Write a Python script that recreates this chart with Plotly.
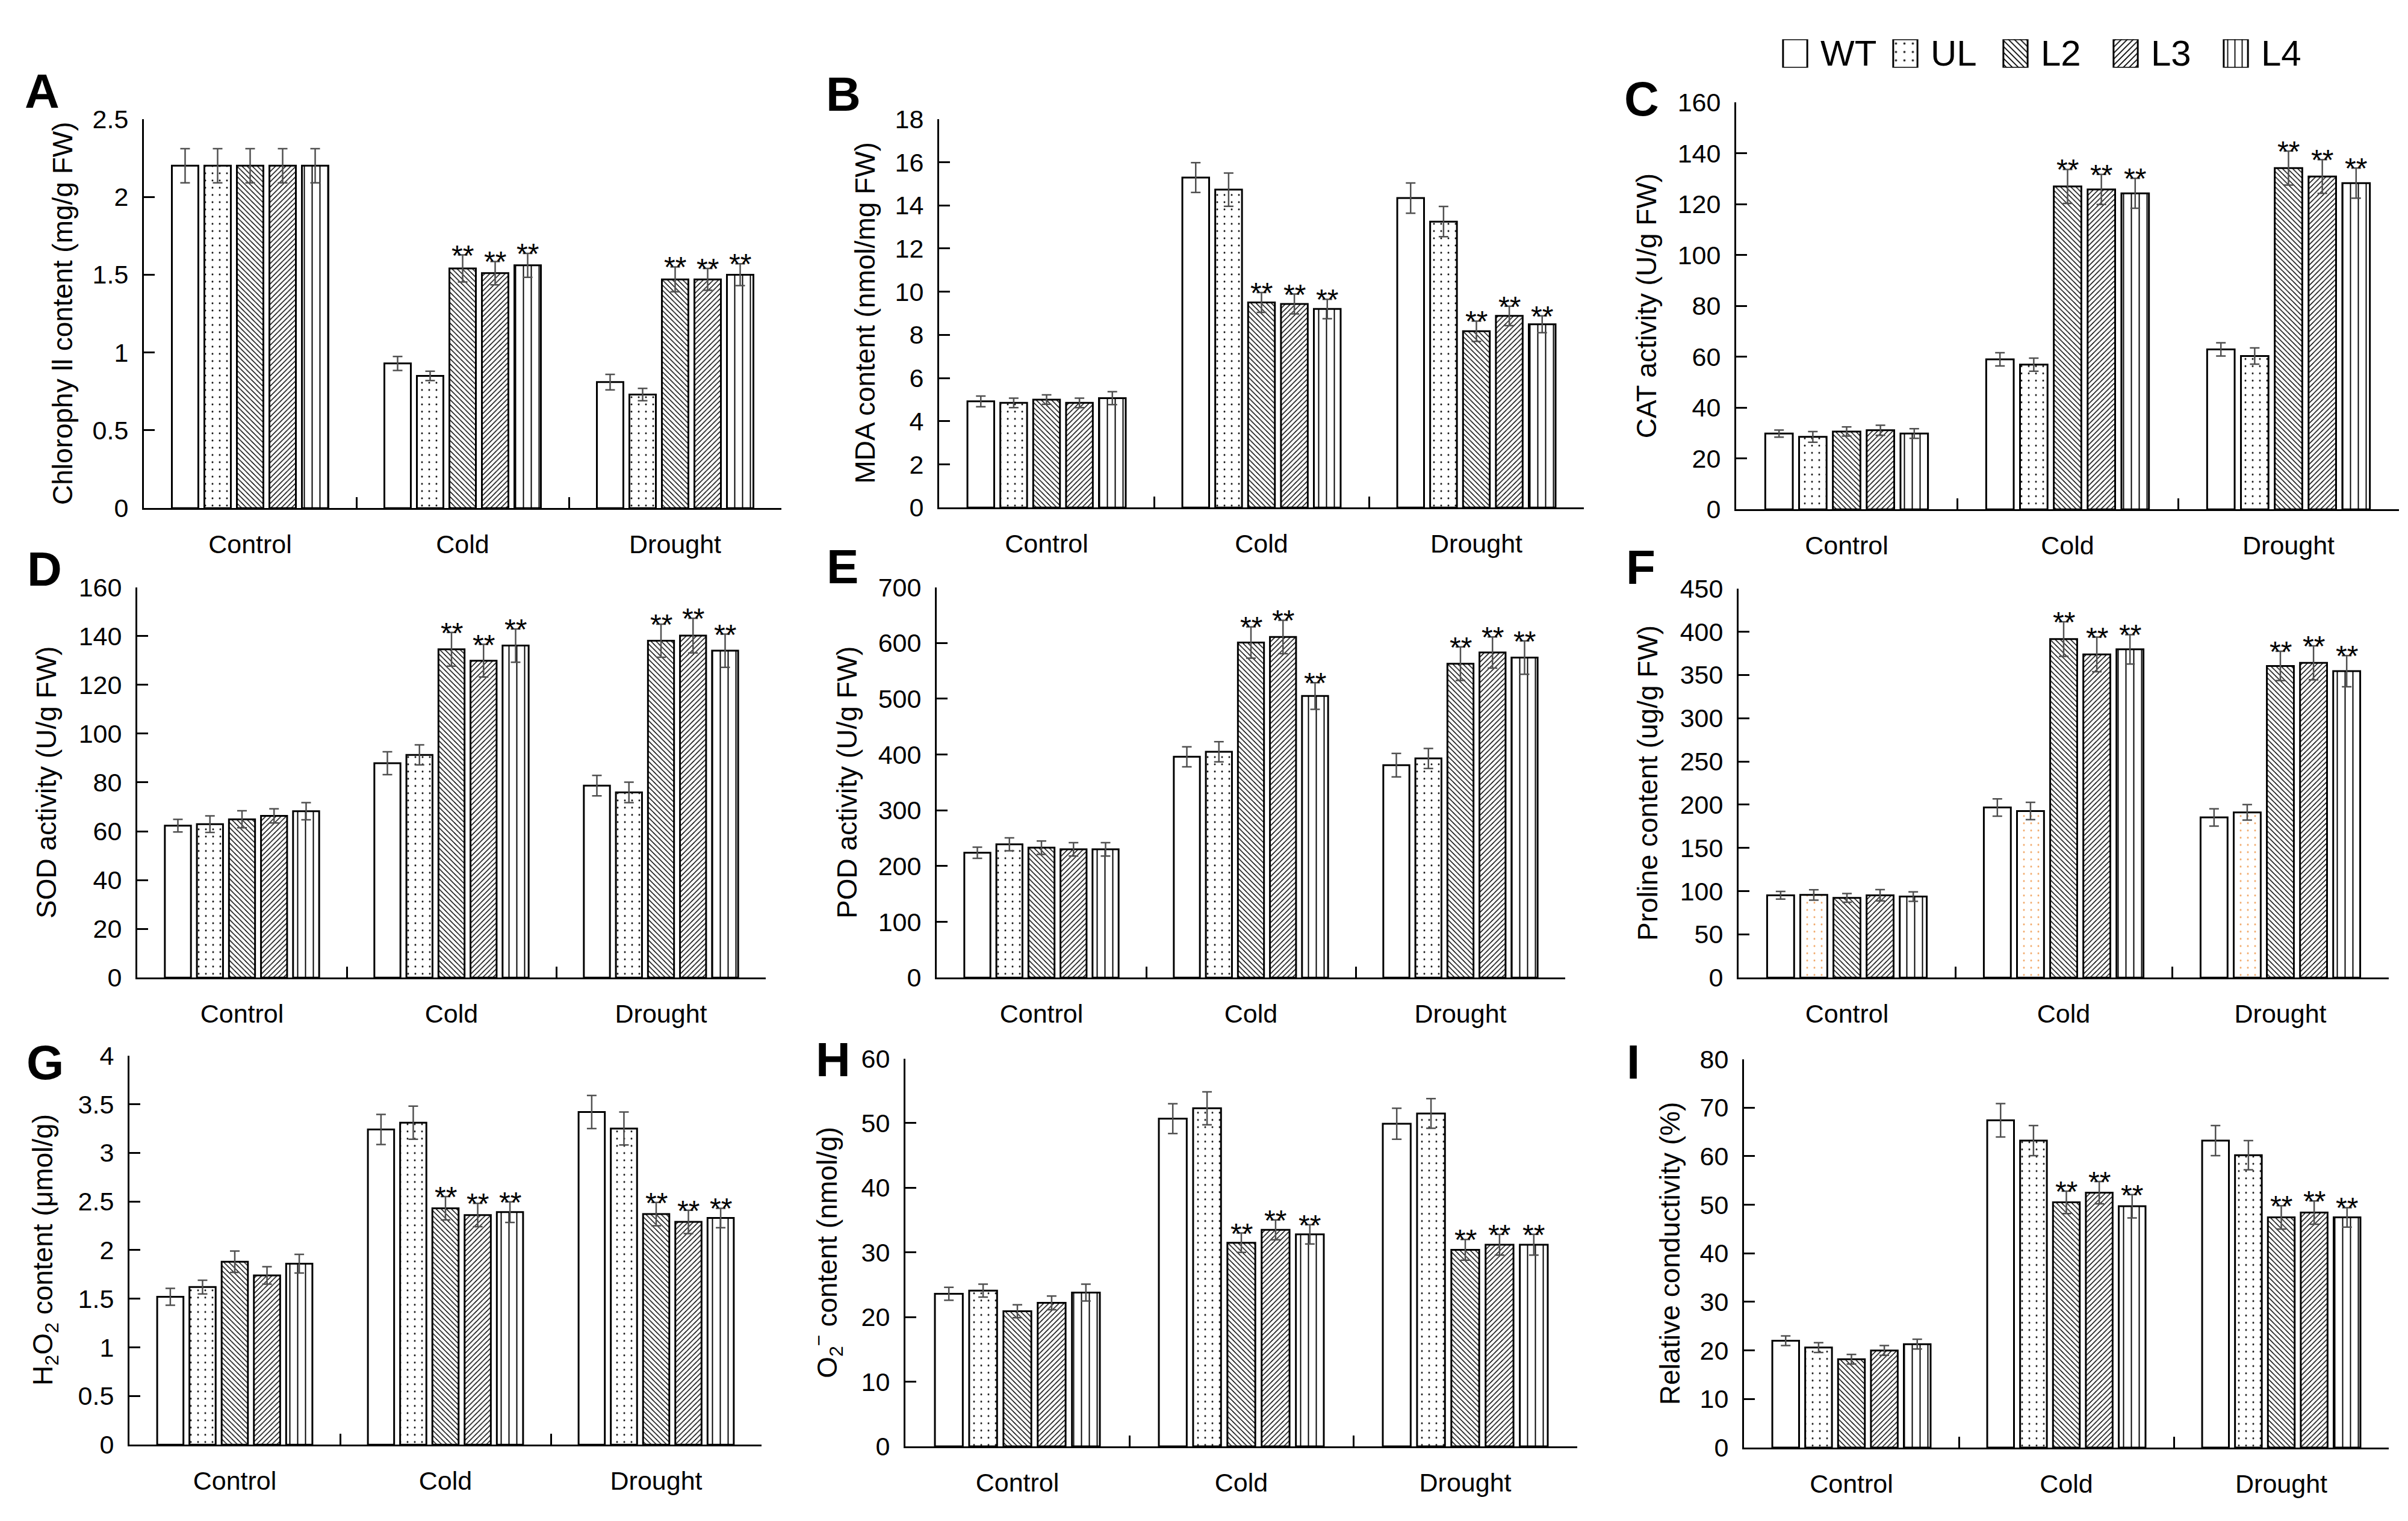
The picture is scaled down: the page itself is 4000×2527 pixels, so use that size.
import plotly.graph_objects as go

W, H = 4000, 2527
FONT = "Liberation Sans, Arial, sans-serif"

categories = ["Control", "Cold", "Drought"]
series = ["WT", "UL", "L2", "L3", "L4"]

# ---- data: rows = WT, UL, L2, L3, L4 ; columns = Control, Cold, Drought ----
chl_mean = [[2.20, 0.93, 0.81], [2.20, 0.85, 0.73], [2.20, 1.54, 1.47], [2.20, 1.51, 1.47], [2.20, 1.56, 1.50]]
chl_err = [[0.11, 0.045, 0.05], [0.11, 0.03, 0.04], [0.11, 0.087, 0.08], [0.11, 0.075, 0.07], [0.11, 0.077, 0.07]]

mda_mean = [[4.92, 15.29, 14.34], [4.85, 14.73, 13.25], [5.00, 9.50, 8.17], [4.85, 9.43, 8.88], [5.07, 9.20, 8.49]]
mda_err = [[0.25, 0.69, 0.70], [0.22, 0.77, 0.70], [0.22, 0.46, 0.47], [0.22, 0.46, 0.45], [0.30, 0.45, 0.39]]

cat_mean = [[29.8, 59.0, 62.9], [28.5, 56.9, 60.3], [30.6, 127.0, 134.2], [31.1, 125.8, 130.9], [29.8, 124.3, 128.3]]
cat_err = [[1.4, 2.6, 2.6], [2.1, 2.6, 3.2], [1.8, 6.7, 6.7], [2.0, 5.9, 6.6], [1.9, 5.9, 5.9]]

sod_mean = [[62.3, 87.9, 78.7], [62.9, 91.3, 75.9], [64.9, 134.6, 138.1], [66.3, 129.9, 140.2], [68.2, 136.1, 134.0]]
sod_err = [[2.6, 4.7, 4.2], [3.4, 4.1, 4.2], [3.5, 6.9, 6.8], [2.9, 6.7, 7.1], [3.5, 6.8, 6.8]]

pod_mean = [[224, 396, 381], [239, 405, 393], [233, 601, 563], [230, 611, 583], [230, 505, 574]]
pod_err = [[10, 18, 21], [11.5, 18, 18], [12, 28, 30], [12, 30, 28], [12, 24, 30]]

pro_mean = [[95.2, 196.7, 185.2], [95.6, 192.6, 191.1], [92.2, 391.5, 360.4], [95.2, 373.7, 364.0], [93.7, 379.6, 354.4]]
pro_err = [[4.5, 10, 10], [6, 10, 9], [5, 20, 17], [6.5, 20, 19.6], [5.5, 17, 18]]

h2o2_mean = [[1.52, 3.24, 3.42], [1.62, 3.31, 3.25], [1.88, 2.43, 2.37], [1.74, 2.36, 2.29], [1.86, 2.39, 2.33]]
h2o2_err = [[0.086, 0.154, 0.17], [0.07, 0.17, 0.17], [0.11, 0.12, 0.12], [0.09, 0.12, 0.12], [0.096, 0.106, 0.10]]

o2_mean = [[23.6, 50.7, 49.9], [24.1, 52.3, 51.5], [20.9, 31.5, 30.4], [22.2, 33.5, 31.2], [23.8, 32.8, 31.2]]
o2_err = [[1.0, 2.3, 2.4], [1.0, 2.55, 2.3], [1.0, 1.5, 1.6], [1.06, 1.54, 1.6], [1.3, 1.5, 1.6]]

rc_mean = [[22.0, 67.4, 63.2], [20.6, 63.2, 60.2], [18.2, 50.5, 47.4], [20.0, 52.5, 48.4], [21.3, 49.7, 47.4]]
rc_err = [[1.0, 3.45, 3.1], [1.0, 3.1, 3.0], [1.0, 2.3, 2.4], [1.0, 2.3, 2.4], [1.0, 2.4, 2.0]]

# significance marks (**) : rows = series, columns = categories
sig = [[0, 0, 0], [0, 0, 0], [0, 1, 1], [0, 1, 1], [0, 1, 1]]

# tick labels
ticks_chl = ["0", "0.5", "1", "1.5", "2", "2.5"]
ticks_mda = ["0", "2", "4", "6", "8", "10", "12", "14", "16", "18"]
ticks_cat = ["0", "20", "40", "60", "80", "100", "120", "140", "160"]
ticks_sod = ["0", "20", "40", "60", "80", "100", "120", "140", "160"]
ticks_pod = ["0", "100", "200", "300", "400", "500", "600", "700"]
ticks_pro = ["0", "50", "100", "150", "200", "250", "300", "350", "400", "450"]
ticks_h2o2 = ["0", "0.5", "1", "1.5", "2", "2.5", "3", "3.5", "4"]
ticks_o2 = ["0", "10", "20", "30", "40", "50", "60"]
ticks_rc = ["0", "10", "20", "30", "40", "50", "60", "70", "80"]

# ---- panel geometry (pixels) ----
panels = [
    dict(letter="A", title="Chlorophy ll content (mg/g FW)", mean=chl_mean, err=chl_err, ticks=ticks_chl,
         ax=231, top=169, bottom=828, catw=353, tx=96, lx=62, ly=122),
    dict(letter="B", title="MDA content (nmol/mg FW)", mean=mda_mean, err=mda_err, ticks=ticks_mda,
         ax=1552, top=169, bottom=827, catw=357, tx=1429, lx=1393, ly=127),
    dict(letter="C", title="CAT activity (U/g FW)", mean=cat_mean, err=cat_err, ticks=ticks_cat,
         ax=2876, top=141, bottom=830, catw=367, tx=2727, lx=2719, ly=135),
    dict(letter="D", title="SOD activity (U/g FW)", mean=sod_mean, err=sod_err, ticks=ticks_sod,
         ax=220, top=962, bottom=1623, catw=348, tx=69, lx=66, ly=931),
    dict(letter="E", title="POD activity (U/g FW)", mean=pod_mean, err=pod_err, ticks=ticks_pod,
         ax=1548, top=962, bottom=1623, catw=348, tx=1399, lx=1391, ly=927),
    dict(letter="F", title="Proline content (ug/g FW)", mean=pro_mean, err=pro_err, ticks=ticks_pro,
         ax=2880, top=964, bottom=1623, catw=360, tx=2729, lx=2717, ly=928, orange=True),
    dict(letter="G", title="H<sub>2</sub>O<sub>2</sub> content (μmol/g)", mean=h2o2_mean, err=h2o2_err, ticks=ticks_h2o2,
         ax=207, top=1755, bottom=2414, catw=350, tx=67, lx=67, ly=1767),
    dict(letter="H", title="O<sub>2</sub><sup>−</sup> content (nmol/g)", mean=o2_mean, err=o2_err, ticks=ticks_o2,
         ax=1496, top=1760, bottom=2417, catw=372, tx=1367, lx=1376, ly=1762),
    dict(letter="I", title="Relative conductivity (%)", mean=rc_mean, err=rc_err, ticks=ticks_rc,
         ax=2889, top=1761, bottom=2419, catw=357, tx=2766, lx=2705, ly=1766),
]

BARGAP = 0.235
BARGROUPGAP = 0.186
PITCH = (1 - BARGAP) / 5

shapes_pat = ["", ".", "\\", "/", "|"]
sizes_pat = [8, 12, 6, 6, 13]
solid_pat = [0.2, 0.05, 0.25, 0.25, 0.15]

fig = go.Figure()
layout = dict(
    width=W, height=H, margin=dict(l=0, r=0, t=0, b=0),
    paper_bgcolor="white", plot_bgcolor="white",
    barmode="group", bargap=BARGAP, bargroupgap=BARGROUPGAP,
    showlegend=False, font=dict(family=FONT, color="black"),
)
annotations = []

for k, p in enumerate(panels, start=1):
    xa = "x" if k == 1 else f"x{k}"
    ya = "y" if k == 1 else f"y{k}"
    ymax = float(p["ticks"][-1])
    for i, s in enumerate(series):
        fg = "black"
        if p.get("orange") and s == "UL":
            fg = "#F0A15C"
        fig.add_trace(go.Bar(
            x=categories, y=p["mean"][i], name=s, xaxis=xa, yaxis=ya,
            marker=dict(color="white",
                        line=dict(color="black", width=3),
                        pattern=dict(shape=shapes_pat[i], size=sizes_pat[i], solidity=solid_pat[i],
                                     fgcolor=fg, bgcolor="white", fillmode="replace")),
            error_y=dict(type="data", array=p["err"][i], color="#505050", thickness=2.5, width=8),
            showlegend=False, hoverinfo="skip",
        ))
        for j in range(3):
            if sig[i][j]:
                annotations.append(dict(
                    x=j + (i - 2) * PITCH, y=p["mean"][i][j] + p["err"][i][j], xref=xa, yref=ya,
                    text="**", showarrow=False, yanchor="bottom", xanchor="center", yshift=-29,
                    font=dict(size=48, family=FONT, color="black")))
    x0 = p["ax"] / W
    x1 = (p["ax"] + 3 * p["catw"]) / W
    y0 = 1 - p["bottom"] / H
    y1 = 1 - p["top"] / H
    key_x = "xaxis" if k == 1 else f"xaxis{k}"
    key_y = "yaxis" if k == 1 else f"yaxis{k}"
    layout[key_x] = dict(
        domain=[x0, x1], anchor=ya, type="category", range=[-0.5, 2.5],
        showline=True, linecolor="black", linewidth=3, mirror=False,
        ticks="inside", tickson="boundaries", ticklen=18, tickwidth=2.5, tickcolor="black",
        tickfont=dict(size=43, family=FONT, color="black"), ticklabelstandoff=20,
        showgrid=False, zeroline=False, fixedrange=True,
    )
    layout[key_y] = dict(
        domain=[y0, y1], anchor=xa, range=[0, ymax],
        tickmode="array", tickvals=[float(t) for t in p["ticks"]], ticktext=p["ticks"],
        showline=True, linecolor="black", linewidth=3,
        ticks="inside", ticklen=18, tickwidth=2.5, tickcolor="black",
        tickfont=dict(size=43, family=FONT, color="black"), ticklabelstandoff=14,
        showgrid=False, zeroline=False, fixedrange=True,
    )
    # y axis title
    annotations.append(dict(
        x=p["tx"] / W, y=1 - (p["top"] + p["bottom"]) / 2 / H, xref="paper", yref="paper",
        text=p["title"], textangle=-90, showarrow=False, xanchor="center", yanchor="middle",
        font=dict(size=46, family=FONT, color="black")))
    # panel letter
    annotations.append(dict(
        x=p["lx"] / W, y=1 - p["ly"] / H, xref="paper", yref="paper",
        text=f"<b>{p['letter']}</b>", showarrow=False, xanchor="center", yanchor="middle",
        font=dict(size=80, family=FONT, color="black")))

# ---- custom legend drawn with a bar trace on its own hidden axes ----
leg_x = [0, 1, 2, 3, 4]
fig.add_trace(go.Bar(
    x=leg_x, y=[1, 1, 1, 1, 1], width=0.22, xaxis="x10", yaxis="y10",
    marker=dict(color="white", line=dict(color="black", width=3),
                pattern=dict(shape=shapes_pat, size=[8, 14, 7, 7, 12], solidity=[0.2, 0.05, 0.25, 0.25, 0.15],
                             fgcolor="black", bgcolor="white", fillmode="replace")),
    showlegend=False, hoverinfo="skip",
))
layout["xaxis10"] = dict(domain=[2882.5 / W, 3797.5 / W], range=[-0.5, 4.5], anchor="y10",
                         visible=False, fixedrange=True)
layout["yaxis10"] = dict(domain=[1 - 82 / H, 1 - 34 / H], range=[0, 1], anchor="x10",
                         visible=False, fixedrange=True)
for i, s in enumerate(series):
    annotations.append(dict(
        x=i + 0.22, y=0.5, xref="x10", yref="y10", text=s, showarrow=False,
        xanchor="left", yanchor="middle", font=dict(size=60, family=FONT, color="black")))

layout["annotations"] = annotations
fig.update_layout(**layout)
fig.write_html("out.html")
